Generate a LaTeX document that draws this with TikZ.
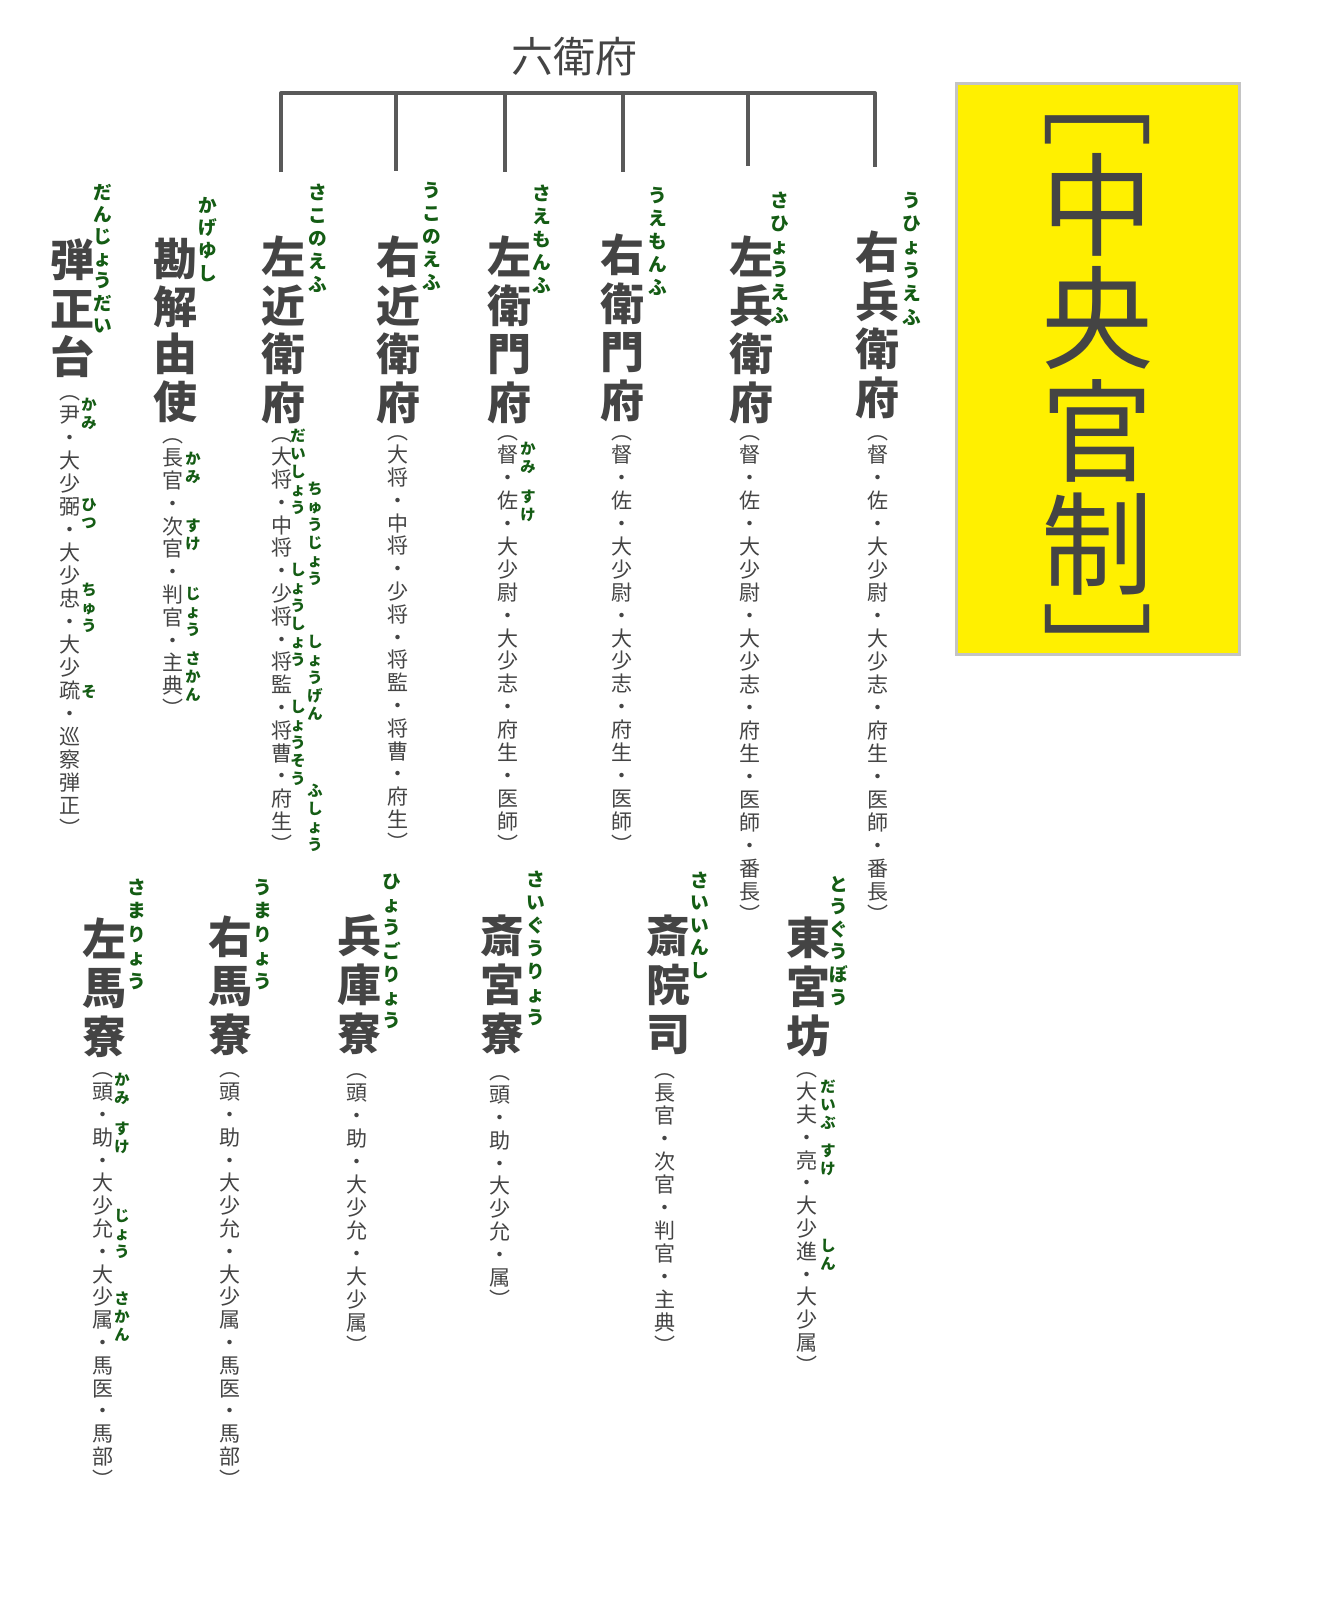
\documentclass[tikz,border=0pt]{standalone}
\usepackage{fontspec}
\newfontfamily\jp{Noto Sans CJK JP}
\newdimen\PX \PX=0.75pt
\definecolor{maingray}{HTML}{444444}
\definecolor{rubygreen}{HTML}{145C14}
\definecolor{bargray}{HTML}{595959}
\definecolor{boxyellow}{HTML}{FFF000}
\definecolor{boxgray}{HTML}{C4C4C4}
\makeatletter
\newcommand\vstack[2]{\lower.38em\vtop{\baselineskip=#1\PX\lineskip=0pt\lineskiplimit=-\maxdimen\@tfor\vs@c:=#2\do{\hbox to 0pt{\hss\vrule width 0pt height .80em depth .04em\vs@c\hss}}}}
\makeatother
\newcommand\vt[6]{\node[#1,anchor=base] (#2) at (#3,#4) {\vstack{#5}{#6}};}
\tikzset{
  mainname/.style={font=\jp\bfseries\fontsize{33}{33}\selectfont, text=maingray, inner sep=0pt},
  subtext/.style={font=\jp\fontsize{15.75}{15.75}\selectfont, text=maingray, inner sep=0pt},
  ruby/.style={font=\jp\bfseries\fontsize{14}{14}\selectfont, text=rubygreen, inner sep=0pt},
  sruby/.style={font=\jp\bfseries\fontsize{11.5}{11.5}\selectfont, text=rubygreen, inner sep=0pt},
  boxtext/.style={font=\jp\fontsize{84}{84}\selectfont, text=maingray, inner sep=0pt},
  titletext/.style={font=\jp\fontsize{31.5}{31.5}\selectfont, text=maingray, inner sep=0pt},
  bar/.style={draw=bargray, line width=3pt},
  yellowbox/.style={draw=boxgray, line width=2.25pt, fill=boxyellow, inner sep=0pt,
    minimum width=212.25pt, minimum height=428.25pt, anchor=north west}
}
\begin{document}
\begin{tikzpicture}[x=0.75pt,y=-0.75pt]
\useasboundingbox (0,0) rectangle (1330,1604);
\fill[white] (0,0) rectangle (1330,1604);

% title and bracket
\node[titletext] (rokue) at (574,57) {六衛府};
\coordinate (j3) at (281,93);
\coordinate (j4) at (396,93);
\coordinate (j5) at (505,93);
\coordinate (j6) at (623,93);
\coordinate (j7) at (748,93);
\coordinate (j8) at (875,93);
\coordinate (e3) at (281,172);
\coordinate (e4) at (396,171);
\coordinate (e5) at (505,172);
\coordinate (e6) at (623,172);
\coordinate (e7) at (748,166);
\coordinate (e8) at (875,167);
\draw[bar, line join=round] (e3) -- (j3) -- (j8) -- (e8);
\draw[bar] (j4) -- (e4);
\draw[bar] (j5) -- (e5);
\draw[bar] (j6) -- (e6);
\draw[bar] (j7) -- (e7);

% yellow box
\node[yellowbox] (box) at (955,82) {};
\vt{boxtext}{boxtxt}{1097}{92}{113}{﹇中央官制﹈}

% top row main names
\vt{mainname}{m1}{72}{260}{48.5}{弾正台}
\vt{mainname}{m2}{175}{259}{47.5}{勘解由使}
\vt{mainname}{m3}{283}{257}{48.5}{左近衛府}
\vt{mainname}{m4}{398}{257}{48.5}{右近衛府}
\vt{mainname}{m5}{509}{257}{48.5}{左衛門府}
\vt{mainname}{m6}{622}{255}{48.5}{右衛門府}
\vt{mainname}{m7}{751}{257}{48.5}{左兵衛府}
\vt{mainname}{m8}{877}{252}{48.5}{右兵衛府}

% top row ruby
\vt{ruby}{r1}{103}{192}{22.2}{だんじょうだい}
\vt{ruby}{r2}{208}{205}{22.7}{かげゆし}
\vt{ruby}{r3}{318}{192}{23}{さこのえふ}
\vt{ruby}{r4}{432}{190}{23}{うこのえふ}
\vt{ruby}{r5}{542}{193}{23}{さえもんふ}
\vt{ruby}{r6}{658}{195}{23}{うえもんふ}
\vt{ruby}{r7}{780}{200}{23}{さひょうえふ}
\vt{ruby}{r8}{912}{200}{23.4}{うひょうえふ}

% top row officials
\vt{subtext}{s1}{70}{392}{23}{︵尹・大少弼・大少忠・大少疏・巡察弾正︶}
\vt{subtext}{s2}{173}{435}{22.8}{︵長官・次官・判官・主典︶}
\vt{subtext}{s3}{282}{434}{22.8}{︵大将・中将・少将・将監・将曹・府生︶}
\vt{subtext}{s4}{398}{432}{22.8}{︵大将・中将・少将・将監・将曹・府生︶}
\vt{subtext}{s5}{508}{432}{22.9}{︵督・佐・大少尉・大少志・府生・医師︶}
\vt{subtext}{s6}{622}{432}{22.9}{︵督・佐・大少尉・大少志・府生・医師︶}
\vt{subtext}{s7}{750}{432}{23}{︵督・佐・大少尉・大少志・府生・医師・番長︶}
\vt{subtext}{s8}{878}{432}{23}{︵督・佐・大少尉・大少志・府生・医師・番長︶}

% top row official ruby
\vt{sruby}{k1a}{89}{405}{18}{かみ}
\vt{sruby}{k1b}{89}{505}{18}{ひつ}
\vt{sruby}{k1c}{89}{590}{18}{ちゅう}
\vt{sruby}{k1d}{89}{692}{18}{そ}
\vt{sruby}{k2a}{193}{459}{18}{かみ}
\vt{sruby}{k2b}{193}{526}{18}{すけ}
\vt{sruby}{k2c}{193}{594}{18}{じょう}
\vt{sruby}{k2d}{193}{659}{18}{さかん}
\vt{sruby}{k3a}{298}{436}{18}{だいしょう}
\vt{sruby}{k3b}{315}{489}{18}{ちゅうじょう}
\vt{sruby}{k3c}{298}{570}{18}{しょうしょう}
\vt{sruby}{k3d}{315}{642}{18}{しょうげん}
\vt{sruby}{k3e}{298}{707}{18}{しょうそう}
\vt{sruby}{k3f}{315}{791}{18}{ふしょう}
\vt{sruby}{k5a}{528}{449}{18}{かみ}
\vt{sruby}{k5b}{528}{497}{18}{すけ}

% bottom row main names
\vt{mainname}{m9}{104}{939}{49}{左馬寮}
\vt{mainname}{m10}{230}{937}{49}{右馬寮}
\vt{mainname}{m11}{359}{936}{49}{兵庫寮}
\vt{mainname}{m12}{502}{936}{49}{斎宮寮}
\vt{mainname}{m13}{668}{936}{49}{斎院司}
\vt{mainname}{m14}{808}{938}{49}{東宮坊}

% bottom row ruby
\vt{ruby}{r9}{137}{887}{23.5}{さまりょう}
\vt{ruby}{r10}{263}{887}{23.5}{うまりょう}
\vt{ruby}{r11}{392}{881}{23.3}{ひょうごりょう}
\vt{ruby}{r12}{536}{879}{23}{さいぐうりょう}
\vt{ruby}{r13}{700}{880}{22.5}{さいいんし}
\vt{ruby}{r14}{839}{884}{22.6}{とうぐうぼう}

% bottom row officials
\vt{subtext}{s9}{103}{1069}{22.8}{︵頭・助・大少允・大少属・馬医・馬部︶}
\vt{subtext}{s10}{230}{1069}{22.8}{︵頭・助・大少允・大少属・馬医・馬部︶}
\vt{subtext}{s11}{357}{1070}{23}{︵頭・助・大少允・大少属︶}
\vt{subtext}{s12}{500}{1072}{22.8}{︵頭・助・大少允・属︶}
\vt{subtext}{s13}{665}{1070}{23}{︵長官・次官・判官・主典︶}
\vt{subtext}{s14}{807}{1069}{22.8}{︵大夫・亮・大少進・大少属︶}

% bottom row official ruby
\vt{sruby}{k9a}{122}{1080}{18}{かみ}
\vt{sruby}{k9b}{122}{1129}{18}{すけ}
\vt{sruby}{k9c}{122}{1216}{18}{じょう}
\vt{sruby}{k9d}{122}{1299}{18}{さかん}
\vt{sruby}{k14a}{828}{1087}{18}{だいぶ}
\vt{sruby}{k14b}{828}{1151}{18}{すけ}
\vt{sruby}{k14c}{828}{1246}{18}{しん}
\end{tikzpicture}
\end{document}
